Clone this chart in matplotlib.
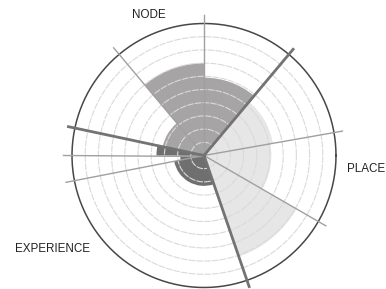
import numpy as np
import matplotlib
matplotlib.use("Agg")
import matplotlib.pyplot as plt

plt.rcParams['font.family'] = ['Liberation Sans', 'DejaVu Sans']

# category labels
labels = ["NODE", "PLACE", "EXPERIENCE"]

# sub-sectors per category: start angle, end angle (degrees), value (0..1)
node_start = [130, 90, 50]
node_end = [168, 130, 90]
node_vals = [0.32, 0.70, 0.59]

place_start = [10, -30, -71]
place_end = [50, 10, -30]
place_vals = [0.53, 0.51, 0.81]

exp_start = [191, 180, 168]
exp_end = [289, 191, 180]
exp_vals = [0.23, 0.18, 0.36]

# spokes: category borders (thick) and sub-sector borders (thin)
thick_spokes = [50, -71, 168]
thin_spokes = [90, 130, 10, -30, 191, 180]

rings = [0.1, 0.2, 0.3, 0.4, 0.5, 0.6, 0.7, 0.8, 0.9]

W, H = 386, 289
cx, cy, R = 204, 155.5, 132
rmax = 1.07

fig = plt.figure(figsize=(W / 100, H / 100), dpi=100)
rpx = R * rmax
ax = fig.add_axes([(cx - rpx) / W, (H - cy - rpx) / H, 2 * rpx / W, 2 * rpx / H],
                  projection='polar')
ax.set_ylim(0, rmax)
ax.axis('off')


def draw_sectors(starts, ends, vals, color):
    for s, e, v in zip(starts, ends, vals):
        a0, a1 = np.deg2rad(s), np.deg2rad(e)
        ax.bar((a0 + a1) / 2, v, width=a1 - a0, bottom=0, color=color,
               edgecolor='none', linewidth=0, zorder=1)


draw_sectors(node_start, node_end, node_vals, '#a6a4a4')
draw_sectors(place_start, place_end, place_vals, '#e6e6e6')
draw_sectors(exp_start, exp_end, exp_vals, '#6f6f6f')

t = np.linspace(0, 2 * np.pi, 400)
for r in rings:
    ax.plot(t, np.full_like(t, r), color='#dadada', lw=0.8, zorder=2,
            dashes=(6, 1))
ax.plot(t, np.ones_like(t), color='#474747', lw=1.1, zorder=3)

for a in thin_spokes:
    ax.plot([np.deg2rad(a)] * 2, [0, 1.065], color='#a0a0a0', lw=1.0, zorder=4,
            clip_on=False)
for a in thick_spokes:
    ax.plot([np.deg2rad(a)] * 2, [0, 1.05], color='#737373', lw=2.0, zorder=5,
            clip_on=False)

label_pos = [(149, 15), (366, 168.5), (52.5, 248.5)]
for lab, (x, y) in zip(labels, label_pos):
    fig.text(x / W, 1 - y / H, lab, ha='center', va='center', fontsize=8.4,
             color='#222222')

fig.savefig('out.png', dpi=100)
